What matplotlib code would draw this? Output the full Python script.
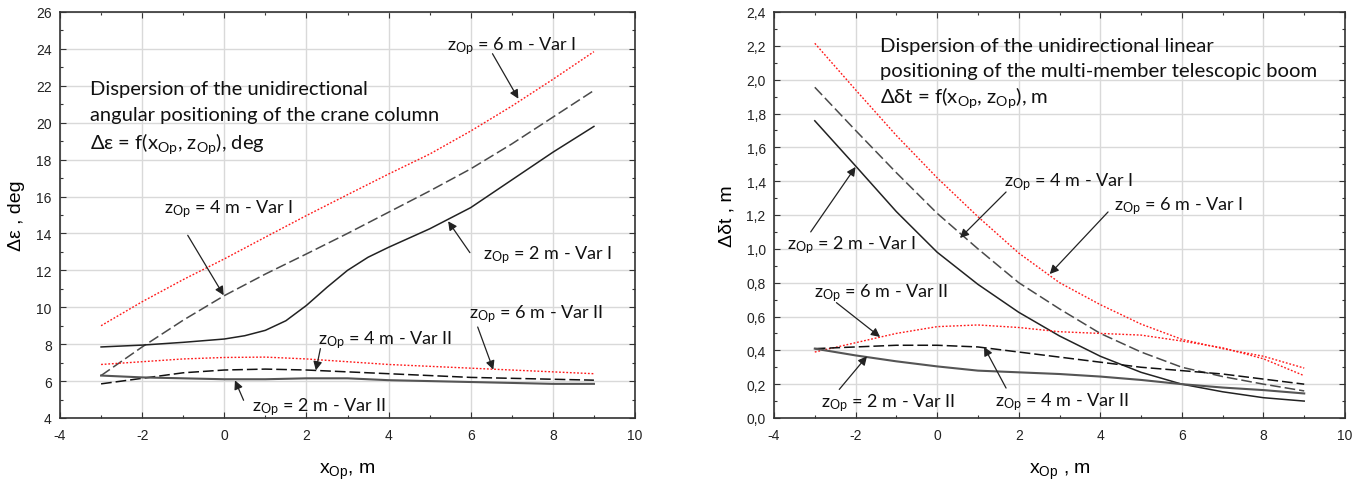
import matplotlib
matplotlib.use("Agg")
import matplotlib.pyplot as plt
from matplotlib.ticker import MultipleLocator, FuncFormatter

plt.rcParams['font.family'] = ['Liberation Sans', 'DejaVu Sans']
plt.rcParams['mathtext.default'] = 'regular'
plt.rcParams['axes.unicode_minus'] = False

# ---------------- data ----------------
x_op = [-3, -2, -1, 0, 1, 2, 3, 4, 5, 6, 7, 8, 9]
x_op_fine = [-3, -2, -1, 0, 0.5, 1, 1.5, 2, 2.5, 3, 3.5, 4, 5, 6, 7, 8, 9]

# Left chart: angular positioning dispersion, deg
eps_z2_var1 = [7.85, 7.95, 8.1, 8.28, 8.46, 8.75, 9.27, 10.1, 11.08, 12.0, 12.71, 13.25,
               14.25, 15.4, 16.9, 18.4, 19.8]          # on x_op_fine
eps_z4_var1 = [6.3, 7.85, 9.3, 10.63, 11.8, 12.89, 14.0, 15.15, 16.3, 17.5, 18.85, 20.3, 21.75]
eps_z6_var1 = [9.0, 10.3, 11.5, 12.62, 13.8, 14.97, 16.1, 17.22, 18.3, 19.55, 20.9, 22.35, 23.85]
eps_z2_var2 = [6.3, 6.2, 6.15, 6.1, 6.1, 6.15, 6.15, 6.05, 6.0, 5.95, 5.9, 5.85, 5.85]
eps_z4_var2 = [5.85, 6.15, 6.45, 6.6, 6.65, 6.6, 6.5, 6.4, 6.3, 6.2, 6.15, 6.1, 6.05]
eps_z6_var2 = [6.9, 7.05, 7.2, 7.28, 7.3, 7.2, 7.05, 6.9, 6.8, 6.7, 6.6, 6.5, 6.4]

# Right chart: linear positioning dispersion, m
dt_z2_var1 = [1.757, 1.49, 1.22, 0.98, 0.79, 0.625, 0.485, 0.365, 0.27, 0.20, 0.155, 0.12, 0.10]
dt_z4_var1 = [1.955, 1.70, 1.45, 1.21, 1.0, 0.80, 0.645, 0.50, 0.39, 0.30, 0.245, 0.20, 0.16]
dt_z6_var1 = [2.215, 1.94, 1.67, 1.42, 1.19, 0.975, 0.80, 0.67, 0.555, 0.465, 0.41, 0.365, 0.295]
dt_z2_var2 = [0.41, 0.37, 0.335, 0.305, 0.28, 0.27, 0.26, 0.245, 0.225, 0.20, 0.18, 0.165, 0.145]
dt_z4_var2 = [0.41, 0.42, 0.43, 0.43, 0.42, 0.39, 0.36, 0.33, 0.30, 0.28, 0.26, 0.23, 0.20]
dt_z6_var2 = [0.39, 0.445, 0.50, 0.54, 0.55, 0.535, 0.51, 0.50, 0.49, 0.455, 0.415, 0.35, 0.25]

left_title = ["Dispersion of the unidirectional",
              "angular positioning of the crane column",
              "Δε = f(x$_{Op}$, z$_{Op}$), deg"]
right_title = ["Dispersion of the unidirectional linear",
               "positioning of the multi-member telescopic boom",
               "Δδt = f(x$_{Op}$, z$_{Op}$), m"]

lab_z2_v1 = "z$_{Op}$ = 2 m - Var I"
lab_z4_v1 = "z$_{Op}$ = 4 m - Var I"
lab_z6_v1 = "z$_{Op}$ = 6 m - Var I"
lab_z2_v2 = "z$_{Op}$ = 2 m - Var II"
lab_z4_v2 = "z$_{Op}$ = 4 m - Var II"
lab_z6_v2 = "z$_{Op}$ = 6 m - Var II"

# ---------------- figure ----------------
fig = plt.figure(figsize=(13.67, 4.81), dpi=100)
axL = fig.add_axes([60/1367, 1-419/481, 575/1367, 406/481])
axR = fig.add_axes([774/1367, 1-419/481, 571/1367, 406/481])

ANN_FONT = ['Lato', 'DejaVu Sans']
RED = '#ff1a1a'

def style(ax):
    ax.set_xlim(-4, 10)
    ax.xaxis.set_major_locator(MultipleLocator(2))
    ax.xaxis.set_minor_locator(MultipleLocator(1))
    ax.grid(True, which='major', color='#d9d9d9', lw=1.0)
    ax.set_axisbelow(True)
    ax.tick_params(which='both', direction='in', top=True, right=True,
                   labelsize=10, colors='#333333', labelcolor='#222222')
    ax.tick_params(which='major', length=4, width=0.8)
    ax.tick_params(which='minor', length=2, width=0.8)
    ax.tick_params(axis='y', pad=6)
    ax.tick_params(axis='x', pad=7)
    for s in ax.spines.values():
        s.set_color('#333333')
        s.set_linewidth(1.2)

def curves(ax, x2v1, d2v1, d4v1, d6v1, d2v2, d4v2, d6v2):
    ax.plot(x_op, d6v1, color=RED, lw=1.0, ls=(0, (1.3, 1.3)))
    ax.plot(x_op, d4v1, color='#4a4a4a', lw=1.1, ls=(0, (7, 2.6)))
    ax.plot(x2v1, d2v1, color='#222222', lw=1.1)
    ax.plot(x_op, d6v2, color=RED, lw=1.0, ls=(0, (1.3, 1.3)))
    ax.plot(x_op, d4v2, color='#111111', lw=1.1, ls=(0, (7, 2.6)))
    ax.plot(x_op, d2v2, color='#555555', lw=1.5)

def annot(ax, text, xy, xytext, tx, ty):
    ax.annotate('', xy=xy, xytext=xytext,
                arrowprops=dict(arrowstyle='-|>', color='#222222', lw=0.9,
                                mutation_scale=13, shrinkA=0, shrinkB=0))
    ax.text(tx, ty, text, fontsize=13, family=ANN_FONT, ha='left', va='baseline',
            color='#111111')

# ---- left ----
style(axL)
axL.set_ylim(4, 26)
axL.yaxis.set_major_locator(MultipleLocator(2))
axL.yaxis.set_minor_locator(MultipleLocator(1))
curves(axL, x_op_fine, eps_z2_var1, eps_z4_var1, eps_z6_var1, eps_z2_var2, eps_z4_var2, eps_z6_var2)
for line, yb in zip(left_title, [21.58, 20.13, 18.65]):
    axL.text(-3.28, yb, line, fontsize=14.5, family=ANN_FONT, ha='left', va='baseline',
             color='#111111')
annot(axL, lab_z6_v1, (7.16, 21.3), (6.53, 23.74), 5.42, 23.97)
annot(axL, lab_z4_v1, (-0.015, 10.65), (-0.89, 13.9), -1.48, 15.12)
annot(axL, lab_z2_v1, (5.45, 14.66), (5.98, 12.96), 6.29, 12.67)
annot(axL, lab_z6_v2, (6.55, 6.62), (6.17, 8.93), 5.96, 9.47)
annot(axL, lab_z4_v2, (2.23, 6.58), (2.34, 7.76), 2.27, 8.03)
annot(axL, lab_z2_v2, (0.26, 6.04), (0.47, 4.96), 0.67, 4.42)
axL.set_xlabel("x$_{Op}$, m", fontsize=14, labelpad=14)
axL.set_ylabel("Δε , deg", fontsize=14, labelpad=8)

# ---- right ----
style(axR)
axR.set_ylim(0, 2.4)
axR.yaxis.set_major_locator(MultipleLocator(0.2))
axR.yaxis.set_minor_locator(MultipleLocator(0.1))
axR.yaxis.set_major_formatter(FuncFormatter(lambda v, p: f"{v:.1f}".replace('.', ',')))
curves(axR, x_op, dt_z2_var1, dt_z4_var1, dt_z6_var1, dt_z2_var2, dt_z4_var2, dt_z6_var2)
for line, yb in zip(right_title, [2.171, 2.023, 1.866]):
    axR.text(-1.40, yb, line, fontsize=14.6, family=ANN_FONT, ha='left', va='baseline',
             color='#111111')
annot(axR, lab_z4_v1, (0.56, 1.064), (1.69, 1.336), 1.63, 1.374)
annot(axR, lab_z6_v1, (2.76, 0.851), (4.19, 1.218), 4.34, 1.231)
annot(axR, lab_z2_v1, (-2.0, 1.484), (-3.1, 1.10), -3.68, 1.004)
annot(axR, lab_z6_v2, (-1.4, 0.479), (-2.47, 0.682), -3.01, 0.719)
annot(axR, lab_z2_v2, (-1.72, 0.365), (-2.4, 0.169), -2.85, 0.069)
annot(axR, lab_z4_v2, (1.15, 0.42), (1.69, 0.177), 1.42, 0.078)
axR.set_xlabel("x$_{Op}$ , m", fontsize=14, labelpad=14)
axR.set_ylabel("Δδt , m", fontsize=14, labelpad=8)

fig.savefig("out.png", dpi=100)
